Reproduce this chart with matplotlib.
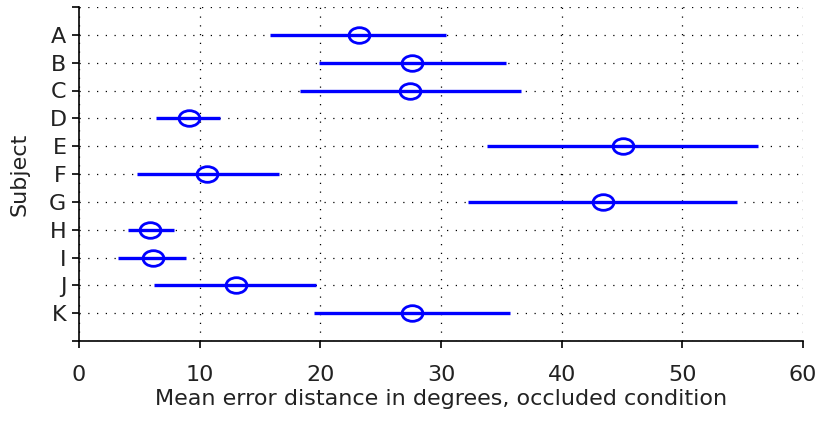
import matplotlib
matplotlib.use("Agg")
import matplotlib.pyplot as plt
from matplotlib.path import Path
from matplotlib.transforms import Affine2D

subjects = ["A", "B", "C", "D", "E", "F", "G", "H", "I", "J", "K"]
means = [23.2, 27.6, 27.4, 9.1, 45.1, 10.6, 43.4, 5.9, 6.1, 13.0, 27.6]
lows = [15.8, 19.9, 18.3, 6.4, 33.8, 4.8, 32.2, 4.1, 3.2, 6.2, 19.5]
highs = [30.4, 35.4, 36.6, 11.7, 56.3, 16.6, 54.5, 7.9, 8.9, 19.6, 35.7]
xticks = [0, 10, 20, 30, 40, 50, 60]

plt.rcParams['font.family'] = ['DejaVu Sans']

fig = plt.figure(figsize=(8.18, 4.22), dpi=100)
ax = fig.add_axes([79/818, (422-341)/422, (803-79)/818, (341-7)/422])

pos = list(range(1, len(subjects) + 1))
blue = "#0000ff"
for y, lo, hi in zip(pos, lows, highs):
    ax.plot([lo, hi], [y, y], color=blue, lw=2.4, solid_capstyle='butt', zorder=3)

ell = Path.unit_circle().transformed(Affine2D().scale(1.0, 0.75))
ax.plot(means, pos, linestyle='none', marker=ell, markersize=15,
        markerfacecolor='none', markeredgecolor=blue, markeredgewidth=2.0, zorder=4)

ax.set_xlim(0, 60)
ax.set_ylim(12, 0)
ax.set_xticks(xticks)
ax.set_xticklabels([str(t) for t in xticks])
ax.set_yticks(list(range(0, 13)))
ax.set_yticklabels([""] + subjects + [""])

ax.grid(True, color='black', linestyle=(0, (1, 6)), linewidth=0.9)
ax.set_axisbelow(True)
for s in ["top", "right"]:
    ax.spines[s].set_visible(False)
for s in ["left", "bottom"]:
    ax.spines[s].set_linewidth(1.2)
ax.tick_params(direction='out', length=5, width=1.2, labelsize=16, colors='black',
               labelcolor='#222222')
ax.tick_params(axis='y', pad=4)
ax.tick_params(axis='x', pad=12)

ax.set_xlabel("Mean error distance in degrees, occluded condition", fontsize=16,
              labelpad=3, color='#222222')
ax.set_ylabel("Subject", fontsize=16, labelpad=14, color='#222222')

fig.savefig("out.png", dpi=100)
